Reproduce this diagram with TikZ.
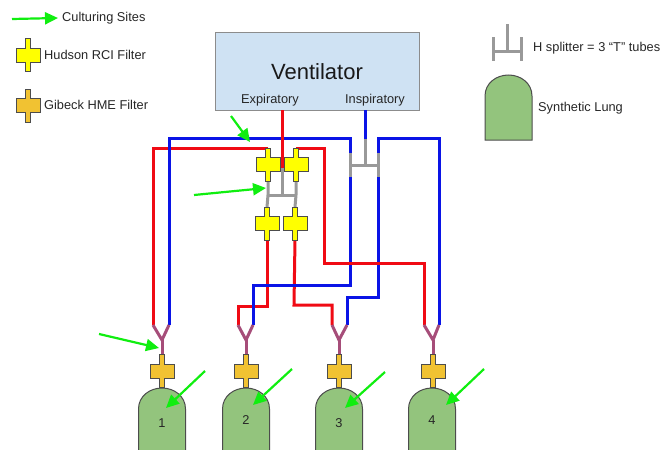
\documentclass[tikz,border=0pt]{standalone}
\usepackage{xcolor}
\usepackage{fontspec}
\setmainfont{Liberation Sans}
\usetikzlibrary{arrows.meta}
\usetikzlibrary{positioning}
\definecolor{tubered}{HTML}{F00A14}
\definecolor{tubeblue}{HTML}{0A14E6}
\definecolor{tubegray}{HTML}{999999}
\definecolor{tubepurple}{HTML}{A64D79}
\definecolor{sitegreen}{HTML}{10EE10}
\definecolor{lunggreen}{HTML}{93C47D}
\definecolor{hudson}{HTML}{FFFF00}
\definecolor{gibeck}{HTML}{F1C232}
\definecolor{ventblue}{HTML}{CFE2F3}
\tikzstyle{redtube}=[draw=tubered,line width=3pt,line join=miter]
\tikzstyle{bluetube}=[draw=tubeblue,line width=3pt,line join=miter]
\tikzstyle{graytube}=[draw=tubegray,line width=3pt]
\tikzstyle{ytube}=[draw=tubepurple,line width=3pt]
\tikzstyle{site}=[draw=sitegreen,line width=2.2pt,-{Triangle[length=13pt,width=12pt]}]
\tikzstyle{filter}=[draw=black!70,line width=0.9pt,line join=miter]
\tikzstyle{lung}=[draw=black!70,line width=1pt,fill=lunggreen]
\tikzstyle{lbl}=[font=\fontsize{12.8}{15}\selectfont,text=black!85,inner sep=0pt]
\tikzset{anchorbox/.style={minimum width=4pt,minimum height=33pt,inner sep=0pt,outer sep=0pt}}
\begin{document}
\begin{tikzpicture}[x=1pt,y=-1pt]
  \useasboundingbox (0,0) rectangle (662,450);

  % ventilator
  \node[draw=black!45,line width=1pt,fill=ventblue,minimum width=204pt,minimum height=78pt,inner sep=0pt] (vent) at (317,71) {};
  \node[font=\fontsize{22}{26}\selectfont,text=black!90,inner sep=0pt] (ventname) at (317,72) {Ventilator};
  \node[lbl] (exp) at (270,100) {Expiratory};
  \node[lbl] (insp) at (375,100) {Inspiratory};

  % way points of the tubes
  \foreach \x/\y/\name in {282/110/expout, 282/168/expin, 365/110/inspout, 365/139/inspin,
      350/153/sp1, 378/153/sp2, 350/177/sp3, 378/177/sp4,
      268/181/hexp1, 296/181/hexp2, 267/207/hexp3, 295/207/hexp4,
      153/325/r1, 169/325/b1, 238/325/r2, 253/325/b2, 332/325/r3, 347/325/b3, 424/325/r4, 439/325/b4,
      162/340/j1, 246/340/j2, 339/340/j3, 433/340/j4}
     \coordinate (\name) at (\x,\y);

  % red tubes under the blue ones
  \draw[redtube] (r1) -- (153,148) -- (268,148);
  \draw[redtube] (267,240) -- (267,306) -- (238,306) -- (r2);
  \draw[redtube] (295,240) -- (294,305) -- (332,305) -- (r3);

  % blue tubes
  \draw[bluetube] (b1) -- (169,138) -- (350,138) -- (sp1);
  \draw[bluetube] (sp3) -- (350,285) -- (253,285) -- (b2);
  \draw[bluetube] (sp4) -- (378,297) -- (347,297) -- (b3);
  \draw[bluetube] (sp2) -- (378,138) -- (439,138) -- (b4);
  \draw[bluetube] (inspout) -- (inspin);

  % red tubes over the blue ones
  \draw[redtube] (expout) -- (expin);
  \draw[redtube] (296,148) -- (324,148) -- (324,263) -- (424,263) -- (r4);

  % H splitters
  \draw[graytube] (expin) -- (282,195);
  \draw[graytube] (hexp1) -- (268,195) -- (hexp3);
  \draw[graytube] (hexp2) -- (296,195) -- (hexp4);
  \draw[graytube] (268,195) -- (296,195);
  \draw[graytube] (inspin) -- (365,165);
  \draw[graytube] (sp1) -- (sp3);
  \draw[graytube] (sp2) -- (sp4);
  \draw[graytube] (350,165) -- (378,165);

  \node[lbl,anchor=west] (hlabel) at (533,48) {H splitter = 3 “T” tubes};
  \draw[graytube] (507,24) -- (507,51);
  \draw[graytube] (493,37) -- (493,61);
  \draw[graytube] (521,37) -- (521,61);
  \draw[graytube] (493,51) -- (521,51);

  % Y pieces
  \foreach \a/\b/\j in {r1/b1/j1, r2/b2/j2, r3/b3/j3, r4/b4/j4}
     \draw[ytube] (\a) -- (\j) -- (\b);
  \foreach \j in {j1, j2, j3, j4}
     \draw[ytube] (\j) -- ++(0,14);

  % filters
  \foreach \x/\y/\name/\col in {268/164.5/f1/hudson, 296/164.5/f2/hudson, 267/223.5/f3/hudson, 295/223.5/f4/hudson,
      28/55/legf1/hudson, 28/105.5/legf2/gibeck,
      162/371/g1/gibeck, 246/371/g2/gibeck, 339/371/g3/gibeck, 433/371/g4/gibeck}
     {
     \node[anchorbox] (\name) at (\x,\y) {};
     \draw[filter,fill=\col] (\x-2.5,\y-16.5) -- (\x+2.5,\y-16.5) -- (\x+2.5,\y-7) -- (\x+12,\y-7) -- (\x+12,\y+7) -- (\x+2.5,\y+7)
        -- (\x+2.5,\y+16.5) -- (\x-2.5,\y+16.5) -- (\x-2.5,\y+7) -- (\x-12,\y+7) -- (\x-12,\y-7) -- (\x-2.5,\y-7) -- cycle;
     }

  % lungs
  \foreach \x/\y/\name/\label in {162/423/l1/1, 246/420/l2/2, 339/423/l3/3, 432/420/l4/4}
     {
     \draw[lung] (\x-23.5,452) -- (\x-23.5,409) .. controls (\x-23.5,396) and (\x-12,388) .. (\x,388)
        .. controls (\x+12,388) and (\x+23.5,396) .. (\x+23.5,409) -- (\x+23.5,452);
     \node[lbl] (\name) at (\x,\y) {\label};
     }
  \draw[lung] (485,140) -- (485,96) .. controls (485,83) and (496.5,75) .. (508.5,75)
     .. controls (520.5,75) and (532,83) .. (532,96) -- (532,140) -- cycle;

  % labels of the legend
  \node[lbl,anchor=west] (sites) at (62,18) {Culturing Sites};
  \node[lbl,anchor=west] (hudsonlbl) at (44,55) {Hudson RCI Filter};
  \node[lbl,anchor=west] (gibecklbl) at (44,105) {Gibeck HME Filter};
  \node[lbl,anchor=west] (lunglbl) at (538,108) {Synthetic Lung};

  % culturing sites
  \foreach \x/\y/\u/\v/\name in {12/19/58/18/a0, 231/116/250/142/a1, 194/195/266/188/a2, 99/334/159/348/a3,
      205/371/166/408/a4, 292/369/253/405/a5, 385/372/345/408/a6, 484/369/446/405/a7}
     {
     \coordinate (\name s) at (\x,\y);
     \coordinate (\name e) at (\u,\v);
     \draw[site] (\name s) -- (\name e);
     }
\end{tikzpicture}
\end{document}
